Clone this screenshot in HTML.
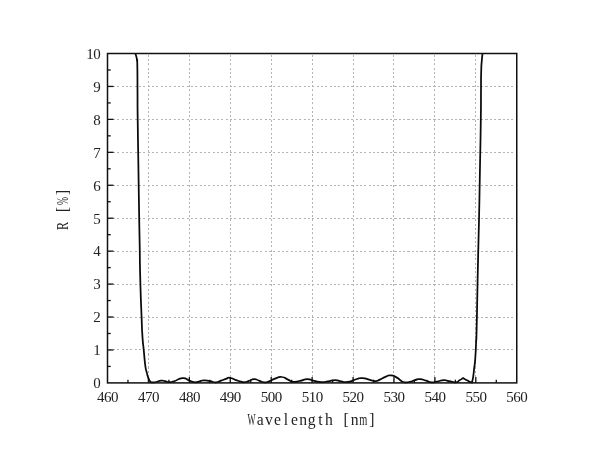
<!DOCTYPE html>
<html lang="en">
<head>
<meta charset="utf-8">
<title>R [%] vs Wavelength [nm]</title>
<style>
html,body{margin:0;padding:0;background:#fff;}
body{width:600px;height:459px;overflow:hidden;}
svg{display:block;}
text{font-family:"Liberation Serif",serif;font-size:15.0px;fill:#222;}
text.lab{font-size:17.6px;fill:#222;}
.grid line{stroke:#b4b4b4;stroke-width:1;stroke-dasharray:2.1 2.23;stroke-dashoffset:-1.2;}
.ticks line{stroke:#111;stroke-width:1.3;}
</style>
</head>
<body>
<svg width="600" height="459" viewBox="0 0 600 459">
<rect x="0" y="0" width="600" height="459" fill="#ffffff"/>
<g class="grid" shape-rendering="crispEdges">
<line x1="148.43" y1="53.5" x2="148.43" y2="382.9"/>
<line x1="189.35" y1="53.5" x2="189.35" y2="382.9"/>
<line x1="230.28" y1="53.5" x2="230.28" y2="382.9"/>
<line x1="271.20" y1="53.5" x2="271.20" y2="382.9"/>
<line x1="312.12" y1="53.5" x2="312.12" y2="382.9"/>
<line x1="353.05" y1="53.5" x2="353.05" y2="382.9"/>
<line x1="393.98" y1="53.5" x2="393.98" y2="382.9"/>
<line x1="434.90" y1="53.5" x2="434.90" y2="382.9"/>
<line x1="475.82" y1="53.5" x2="475.82" y2="382.9"/>
<line x1="107.5" y1="349.96" x2="516.75" y2="349.96"/>
<line x1="107.5" y1="317.02" x2="516.75" y2="317.02"/>
<line x1="107.5" y1="284.08" x2="516.75" y2="284.08"/>
<line x1="107.5" y1="251.14" x2="516.75" y2="251.14"/>
<line x1="107.5" y1="218.20" x2="516.75" y2="218.20"/>
<line x1="107.5" y1="185.26" x2="516.75" y2="185.26"/>
<line x1="107.5" y1="152.32" x2="516.75" y2="152.32"/>
<line x1="107.5" y1="119.38" x2="516.75" y2="119.38"/>
<line x1="107.5" y1="86.44" x2="516.75" y2="86.44"/>
</g>
<g class="ticks">
<line x1="127.96" y1="382.9" x2="127.96" y2="379.7"/>
<line x1="148.43" y1="382.9" x2="148.43" y2="376.9"/>
<line x1="168.89" y1="382.9" x2="168.89" y2="379.7"/>
<line x1="189.35" y1="382.9" x2="189.35" y2="376.9"/>
<line x1="209.81" y1="382.9" x2="209.81" y2="379.7"/>
<line x1="230.28" y1="382.9" x2="230.28" y2="376.9"/>
<line x1="250.74" y1="382.9" x2="250.74" y2="379.7"/>
<line x1="271.20" y1="382.9" x2="271.20" y2="376.9"/>
<line x1="291.66" y1="382.9" x2="291.66" y2="379.7"/>
<line x1="312.12" y1="382.9" x2="312.12" y2="376.9"/>
<line x1="332.59" y1="382.9" x2="332.59" y2="379.7"/>
<line x1="353.05" y1="382.9" x2="353.05" y2="376.9"/>
<line x1="373.51" y1="382.9" x2="373.51" y2="379.7"/>
<line x1="393.98" y1="382.9" x2="393.98" y2="376.9"/>
<line x1="414.44" y1="382.9" x2="414.44" y2="379.7"/>
<line x1="434.90" y1="382.9" x2="434.90" y2="376.9"/>
<line x1="455.36" y1="382.9" x2="455.36" y2="379.7"/>
<line x1="475.82" y1="382.9" x2="475.82" y2="376.9"/>
<line x1="496.29" y1="382.9" x2="496.29" y2="379.7"/>
<line x1="107.5" y1="366.43" x2="110.7" y2="366.43"/>
<line x1="107.5" y1="349.96" x2="113.5" y2="349.96"/>
<line x1="107.5" y1="333.49" x2="110.7" y2="333.49"/>
<line x1="107.5" y1="317.02" x2="113.5" y2="317.02"/>
<line x1="107.5" y1="300.55" x2="110.7" y2="300.55"/>
<line x1="107.5" y1="284.08" x2="113.5" y2="284.08"/>
<line x1="107.5" y1="267.61" x2="110.7" y2="267.61"/>
<line x1="107.5" y1="251.14" x2="113.5" y2="251.14"/>
<line x1="107.5" y1="234.67" x2="110.7" y2="234.67"/>
<line x1="107.5" y1="218.20" x2="113.5" y2="218.20"/>
<line x1="107.5" y1="201.73" x2="110.7" y2="201.73"/>
<line x1="107.5" y1="185.26" x2="113.5" y2="185.26"/>
<line x1="107.5" y1="168.79" x2="110.7" y2="168.79"/>
<line x1="107.5" y1="152.32" x2="113.5" y2="152.32"/>
<line x1="107.5" y1="135.85" x2="110.7" y2="135.85"/>
<line x1="107.5" y1="119.38" x2="113.5" y2="119.38"/>
<line x1="107.5" y1="102.91" x2="110.7" y2="102.91"/>
<line x1="107.5" y1="86.44" x2="113.5" y2="86.44"/>
<line x1="107.5" y1="69.97" x2="110.7" y2="69.97"/>
</g>
<path d="M135.3,53.4 C135.6,54.5 135.7,54.2 136.3,56.6 C136.9,59.0 136.7,57.9 137.0,60.6 C137.3,63.3 137.1,54.6 137.3,64.6 C137.5,74.6 137.4,71.9 137.5,90.6 C137.6,109.3 137.4,97.3 137.7,120.6 C138.0,143.9 137.9,133.9 138.3,160.6 C138.7,187.3 138.5,173.9 138.9,200.6 C139.3,227.3 139.1,213.9 139.6,240.6 C140.1,267.3 139.6,254.9 140.3,280.6 C141.0,306.3 140.9,299.3 141.6,317.6 C142.3,335.9 141.7,324.6 142.4,335.6 C143.1,346.6 142.8,340.6 143.8,350.6 C144.8,360.6 144.3,358.3 145.3,365.6 C146.3,372.9 145.8,368.4 146.8,372.6 C147.8,376.8 147.3,375.3 148.4,378.1 C149.5,380.9 148.8,379.7 150.0,381.1 C151.2,382.5 150.0,382.1 152.0,382.4 C154.0,382.6 153.0,382.6 156.0,382.0 C159.0,381.4 158.0,380.9 161.0,380.6 C164.0,380.3 162.3,380.7 165.0,381.2 C167.7,381.7 166.0,382.0 169.0,382.1 C172.0,382.2 169.5,382.6 174.0,381.4 C178.5,380.1 177.5,378.4 182.5,378.1 C187.5,377.8 185.2,379.0 189.0,380.4 C192.8,381.8 190.7,381.8 194.0,382.2 C197.3,382.6 195.7,382.2 199.0,381.6 C202.3,381.0 200.3,380.4 204.0,380.3 C207.7,380.2 206.0,380.5 210.0,381.2 C214.0,381.9 212.3,382.5 216.0,382.3 C219.7,382.1 217.7,381.7 221.0,380.6 C224.3,379.5 223.0,379.8 226.0,378.9 C229.0,378.0 226.7,377.4 230.0,377.8 C233.3,378.2 232.3,378.8 236.0,380.1 C239.7,381.4 238.0,380.9 241.0,381.6 C244.0,382.3 242.3,382.4 245.0,382.2 C247.7,382.0 246.0,381.9 249.0,380.9 C252.0,379.9 250.7,379.3 254.0,379.2 C257.3,379.1 255.7,379.6 259.0,380.6 C262.3,381.6 260.7,382.0 264.0,382.3 C267.3,382.6 265.3,382.6 269.0,381.4 C272.7,380.2 270.8,380.1 275.0,378.6 C279.2,377.1 277.4,376.7 281.7,377.0 C286.0,377.3 284.1,378.0 288.0,379.6 C291.9,381.2 289.3,381.4 293.3,381.8 C297.3,382.2 295.3,381.8 300.0,380.9 C304.7,380.0 302.8,379.2 307.5,379.2 C312.2,379.2 309.3,379.9 314.0,380.9 C318.7,381.9 317.0,382.0 321.7,382.2 C326.4,382.4 323.6,382.1 328.0,381.4 C332.4,380.7 330.7,380.2 335.0,380.2 C339.3,380.2 337.3,380.7 341.0,381.4 C344.7,382.1 342.3,382.4 346.0,382.2 C349.7,382.0 348.3,381.9 352.0,380.8 C355.7,379.7 353.5,379.9 357.0,379.0 C360.5,378.1 358.5,377.9 362.5,378.1 C366.5,378.3 364.8,378.6 369.0,379.6 C373.2,380.6 371.3,381.0 375.0,381.0 C378.7,381.0 376.3,381.1 380.0,379.6 C383.7,378.1 382.3,378.0 386.0,376.6 C389.7,375.2 387.7,375.1 391.0,375.3 C394.3,375.5 393.0,375.6 396.0,377.1 C399.0,378.6 397.2,378.1 400.0,379.9 C402.8,381.7 401.2,381.8 404.5,382.4 C407.8,382.6 406.5,382.6 410.0,381.8 C413.5,381.0 411.7,381.0 415.0,380.1 C418.3,379.2 416.3,379.0 420.0,379.2 C423.7,379.4 422.1,379.5 426.0,380.6 C429.9,381.7 428.0,382.1 431.7,382.4 C435.4,382.6 432.9,382.3 437.0,381.6 C441.1,380.9 440.0,380.3 444.0,380.2 C448.0,380.1 445.0,380.5 449.0,381.2 C453.0,381.9 452.4,382.6 455.9,382.3 C459.4,382.0 457.3,381.5 459.5,380.3 C461.7,379.1 461.2,379.3 462.4,378.6 C463.6,377.9 462.6,378.2 463.1,378.2 C463.6,378.2 462.6,377.9 463.9,378.6 C465.2,379.3 464.4,378.9 467.0,380.2 C469.6,381.5 469.8,382.1 471.6,382.4 C473.4,382.6 471.9,382.3 472.3,381.0 C472.7,379.7 472.5,380.3 472.9,378.4 C473.3,376.5 473.1,377.4 473.4,375.2 C473.7,373.0 473.5,374.5 473.8,371.9 C474.1,369.3 473.9,370.4 474.3,367.3 C474.7,364.2 474.5,366.4 474.9,362.7 C475.3,359.0 475.1,360.6 475.4,356.2 C475.7,351.8 475.5,355.1 475.8,349.6 C476.1,344.1 475.9,346.3 476.2,339.8 C476.5,333.3 476.1,349.7 476.6,330.0 C477.1,310.3 477.0,310.4 477.6,280.6 C478.2,250.8 477.9,267.3 478.5,240.6 C479.1,213.9 478.9,227.3 479.4,200.6 C479.9,173.9 479.6,187.3 480.1,160.6 C480.6,133.9 480.5,143.9 480.8,120.6 C481.1,97.3 480.9,106.9 481.0,90.6 C481.1,74.3 480.9,81.6 481.2,71.6 C481.5,61.6 481.3,66.7 481.8,60.6 C482.3,54.5 482.3,55.8 482.6,53.4" fill="none" stroke="#0a0a0a" stroke-width="1.75" stroke-linejoin="round" stroke-linecap="butt"/>
<rect x="107.5" y="53.5" width="409.25" height="329.4" fill="none" stroke="#111" stroke-width="1.5"/>
<g class="xt">
<text x="97.05 104.05 111.05" y="402.2">460</text>
<text x="137.98 144.98 151.98" y="402.2">470</text>
<text x="178.90 185.90 192.90" y="402.2">480</text>
<text x="219.83 226.83 233.83" y="402.2">490</text>
<text x="260.75 267.75 274.75" y="402.2">500</text>
<text x="301.68 308.68 315.68" y="402.2">510</text>
<text x="342.60 349.60 356.60" y="402.2">520</text>
<text x="383.53 390.53 397.53" y="402.2">530</text>
<text x="424.45 431.45 438.45" y="402.2">540</text>
<text x="465.38 472.38 479.38" y="402.2">550</text>
<text x="506.30 513.30 520.30" y="402.2">560</text>
</g>
<g class="yt">
<text x="93.25" y="388.20">0</text>
<text x="93.25" y="355.26">1</text>
<text x="93.25" y="322.32">2</text>
<text x="93.25" y="289.38">3</text>
<text x="93.25" y="256.44">4</text>
<text x="93.25" y="223.50">5</text>
<text x="93.25" y="190.56">6</text>
<text x="93.25" y="157.62">7</text>
<text x="93.25" y="124.68">8</text>
<text x="93.25" y="91.74">9</text>
<text x="86.25 93.25" y="58.80">10</text>
</g>
<g transform="translate(247.35,424.5) scale(0.89,1)"><text class="lab" y="0"><tspan x="0.29" textLength="9.07" lengthAdjust="spacingAndGlyphs">W</tspan><tspan x="10.56 19.72 29.86 40.97 49.15 58.31 67.95 79.56 87.25 99.10 108.01 116.19">avelength [n</tspan><tspan x="125.70" textLength="9.07" lengthAdjust="spacingAndGlyphs">m</tspan><tspan x="136.95">]</tspan></text></g>
<g transform="translate(68.3,230.3) rotate(-90) scale(0.89,1)"><text class="lab" y="0"><tspan x="0.29" textLength="9.07" lengthAdjust="spacingAndGlyphs">R</tspan><tspan x="12.27 20.40"> [</tspan><tspan x="28.44" textLength="9.07" lengthAdjust="spacingAndGlyphs">%</tspan><tspan x="39.70">]</tspan></text></g>
</svg>
</body>
</html>
